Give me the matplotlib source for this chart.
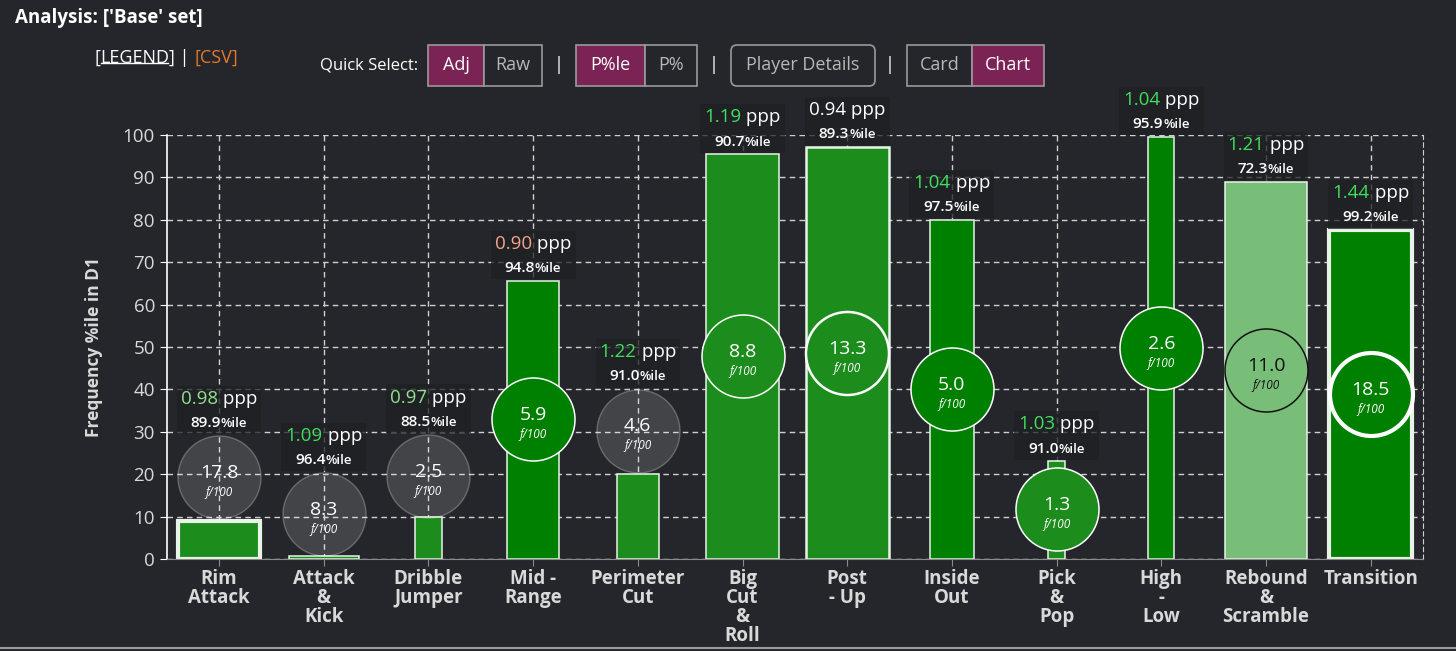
import matplotlib
matplotlib.use("Agg")
import matplotlib.pyplot as plt
from matplotlib.patches import Rectangle, FancyBboxPatch
from matplotlib.lines import Line2D
from matplotlib.transforms import IdentityTransform
from matplotlib.offsetbox import TextArea, HPacker, VPacker, AnnotationBbox

plt.rcParams['font.family'] = ['Open Sans', 'DejaVu Sans']

# data
categories = ["Rim\nAttack", "Attack\n&\nKick", "Dribble\nJumper", "Mid -\nRange",
              "Perimeter\nCut", "Big\nCut\n&\nRoll", "Post\n- Up", "Inside\nOut",
              "Pick\n&\nPop", "High\n-\nLow", "Rebound\n&\nScramble", "Transition"]
freq_pctile = [9.0, 0.8, 9.8, 65.6, 20.0, 95.5, 97.2, 80.0, 23.1, 99.6, 89.0, 77.6]
circle_y = [19.3, 10.6, 19.6, 33.0, 30.3, 47.8, 48.6, 40.0, 11.7, 49.8, 44.6, 38.9]
freq_per100 = [17.8, 8.3, 2.5, 5.9, 4.6, 8.8, 13.3, 5.0, 1.3, 2.6, 11.0, 18.5]
ppp = [0.98, 1.09, 0.97, 0.90, 1.22, 1.19, 0.94, 1.04, 1.03, 1.04, 1.21, 1.44]
ppp_pctile = [89.9, 96.4, 88.5, 94.8, 91.0, 90.7, 89.3, 97.5, 91.0, 95.9, 72.3, 99.2]
y_ticks = [0, 10, 20, 30, 40, 50, 60, 70, 80, 90, 100]

# styling per bar
bar_w = [0.78, 0.67, 0.25, 0.49, 0.40, 0.70, 0.79, 0.425, 0.16, 0.25, 0.79, 0.79]
G1, G2, G3 = "#008000", "#1c8c1c", "#78bd78"
bar_col = [G2, G2, G2, G1, G2, G2, G2, G1, G2, G1, G3, G1]
edge_lw = [3.0, 1.1, 1.1, 1.1, 1.1, 1.1, 1.8, 1.1, 1.1, 1.1, 1.1, 3.0]
GRAY = "gray"
circ_col = [GRAY, GRAY, GRAY, G1, GRAY, G2, G2, G1, G2, G1, G3, G1]
BRIGHT, PALE, SALMON = "#3fdf5c", "#8fe08f", "#f4a48a"
ppp_col = [PALE, BRIGHT, PALE, SALMON, BRIGHT, BRIGHT, "white", BRIGHT, BRIGHT,
           BRIGHT, BRIGHT, BRIGHT]

BG = "#25262b"
TXT = "#d9d9d9"
W, H = 1456, 651

fig = plt.figure(figsize=(W / 100, H / 100), dpi=100, facecolor=BG)
ax = fig.add_axes([166.7 / W, 1 - 559 / H, (1423 - 166.7) / W, (559 - 135) / H])
ax.set_facecolor(BG)
n = len(categories)
x = list(range(n))
ax.set_xlim(-0.5, n - 0.5)
ax.set_ylim(0, 100)

ax.grid(True, color="#d0d0d0", linestyle=(0, (4, 3)), linewidth=1.0, zorder=0.5)
ax.set_axisbelow(True)
ax.spines["top"].set_visible(False)
ax.spines["right"].set_color("#d0d0d0")
ax.spines["right"].set_linestyle((0, (4, 3)))
ax.spines["left"].set_color("white")
ax.spines["left"].set_linewidth(1.2)
ax.spines["bottom"].set_color("#8a8a8a")

ax.set_xticks(x)
ax.set_xticklabels(categories, fontsize=13.5, fontweight="bold", color=TXT,
                   linespacing=0.92)
ax.set_yticks(y_ticks)
ax.tick_params(axis="y", colors="white", labelcolor=TXT, labelsize=13.5, length=5)
ax.tick_params(axis="x", colors="#8a8a8a", labelcolor=TXT, length=5, pad=2.5)
ax.set_ylabel("Frequency %ile in D1", fontsize=12.5, fontweight="bold", color=TXT,
              labelpad=14)

ax.bar(x, freq_pctile, width=bar_w, color=bar_col, edgecolor="#e8f4e8",
       linewidth=edge_lw, zorder=2)

# circles: fixed pixel radius
R_PX = 41.5
r_pt = R_PX * 72 / 100
for i in x:
    if circ_col[i] == GRAY:
        fc, ec, lw = (1, 1, 1, 0.14), (1, 1, 1, 0.26), 1.0
    elif circ_col[i] == G3:
        fc, ec, lw = G3, "#111111", 1.1
    else:
        fc, ec, lw = circ_col[i], "white", edge_lw[i]
    ax.scatter([i], [circle_y[i]], s=(2 * r_pt) ** 2, facecolor=[fc], edgecolor=[ec],
               linewidth=lw, zorder=3)
    tc = "#111111" if circ_col[i] == G3 else "white"
    ax.annotate(f"{freq_per100[i]:.1f}", (i, circle_y[i]), xytext=(0, 3),
                textcoords="offset points", ha="center", va="center",
                fontsize=14, color=tc, zorder=4)
    ax.annotate("f/100", (i, circle_y[i]), xytext=(0, -11), textcoords="offset points",
                ha="center", va="center", fontsize=8.5, style="italic", color=tc,
                zorder=4)

# ppp label boxes sit above whichever is higher: bar top or circle top
px_per_unit = (559 - 135) / 100
r_data = R_PX / px_per_unit
for i in x:
    top = max(freq_pctile[i], circle_y[i] + r_data)
    row1 = HPacker(children=[
        TextArea(f"{ppp[i]:.2f}", textprops=dict(color=ppp_col[i], fontsize=13.5)),
        TextArea(" ppp", textprops=dict(color="white", fontsize=13.5))],
        pad=0, sep=0, align="baseline")
    row2 = HPacker(children=[
        TextArea(f"{ppp_pctile[i]:.1f}", textprops=dict(color="white", fontsize=11,
                                                          fontweight="semibold")),
        TextArea("%ile", textprops=dict(color="white", fontsize=9.5,
                                        fontweight="semibold"))],
        pad=0, sep=0, align="baseline")
    box = VPacker(children=[row1, row2], pad=0, sep=6, align="center")
    ab = AnnotationBbox(box, (i, top), xybox=(0, 4), xycoords="data",
                        boxcoords="offset points", box_alignment=(0.5, 0),
                        frameon=True, pad=0.45, annotation_clip=False,
                        bboxprops=dict(facecolor=(0.12, 0.125, 0.14, 0.75),
                                       edgecolor="none", boxstyle="square"))
    ab.set_zorder(5)
    ax.add_artist(ab)

# header
ident = IdentityTransform()


def ty(py):
    return H - py


fig.text(15, ty(18), "Analysis: ['Base' set]", transform=ident, color="white",
         fontsize=13.5, fontweight="bold", va="center")

t0 = fig.text(94, ty(58), "[", transform=ident, color="white", fontsize=13,
              va="center")
t1 = ax.annotate("LEGEND", xy=(1, 0), xycoords=t0, va="bottom", color="white",
                 fontsize=13, annotation_clip=False)
t2 = ax.annotate("] | ", xy=(1, 0), xycoords=t1, va="bottom", color="white",
                 fontsize=13, annotation_clip=False)
t3 = ax.annotate("[CSV]", xy=(1, 0), xycoords=t2, va="bottom", color="#e07b2a",
                 fontsize=13, annotation_clip=False)

fig.text(320, ty(65), "Quick Select:", transform=ident, color="white", fontsize=12,
         va="center")

MAG = "#7b2355"
buttons = [("Adj", 428, 484, True), ("Raw", 484, 542, False),
           ("P%le", 576, 645, True), ("P%", 645, 697, False),
           ("Card", 907, 972, False), ("Chart", 972, 1044, True)]
for label, x0, x1, on in buttons:
    fig.patches.append(Rectangle((x0, ty(86)), x1 - x0, 41, transform=ident,
                                 facecolor=MAG if on else BG, edgecolor="#9a9a9a",
                                 linewidth=1.2))
    fig.text((x0 + x1) / 2, ty(65), label, transform=ident, ha="center", va="center",
             color="white" if on else "#b8b8b8", fontsize=13)
fig.patches.append(FancyBboxPatch((734, ty(83)), 138, 35, transform=ident,
                                  boxstyle="round,pad=3,rounding_size=6",
                                  facecolor=BG, edgecolor="#9a9a9a", linewidth=1.2))
fig.text(803, ty(65), "Player Details", transform=ident, ha="center", va="center",
         color="#b8b8b8", fontsize=13)
for xp in [559, 714, 890]:
    fig.text(xp, ty(65), "|", transform=ident, ha="center", va="center",
             color="white", fontsize=13)

fig.lines.append(Line2D([0, W], [ty(648), ty(648)], transform=ident, color="#9a9a9a",
                        linewidth=1.5))

# underline under LEGEND
fig.canvas.draw()
bb = t1.get_window_extent(fig.canvas.get_renderer())
fig.lines.append(Line2D([bb.x0 + 1, bb.x1 - 1], [bb.y0 + 4, bb.y0 + 4], transform=ident,
                        color="white", linewidth=1.0))

fig.savefig("out.png", dpi=100, facecolor=BG)
